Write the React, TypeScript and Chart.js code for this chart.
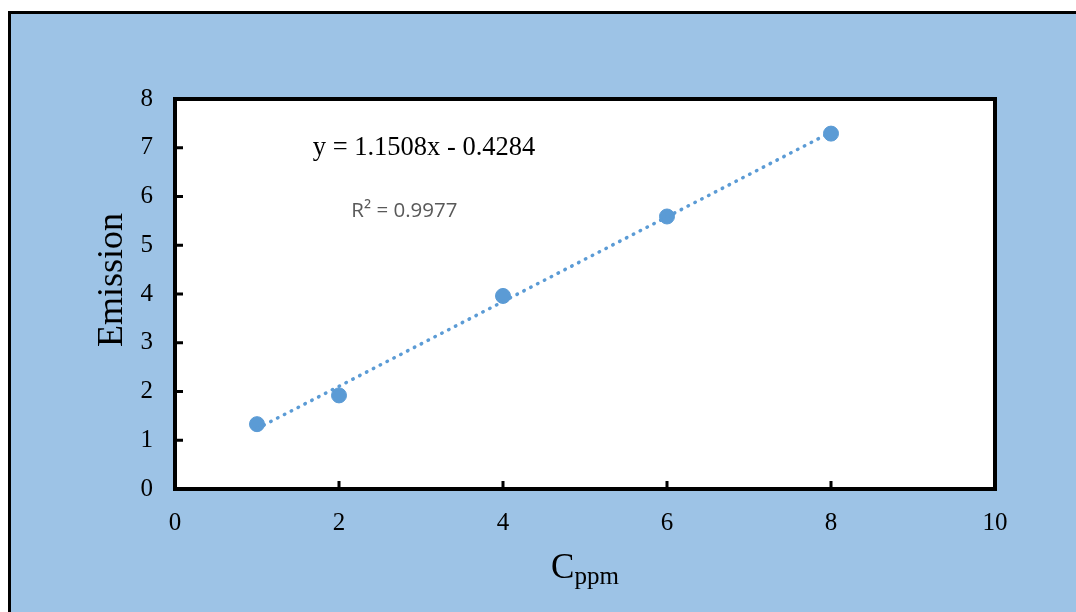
import { useEffect, useRef } from "react";
import { Chart, registerables } from "chart.js";

Chart.register(...registerables);

// ---- data ----
const concentrations = [1, 2, 4, 6, 8];
const emissions = [1.33, 1.92, 3.96, 5.59, 7.29];
const xTickValues = [0, 2, 4, 6, 8, 10];
const yTickValues = [0, 1, 2, 3, 4, 5, 6, 7, 8];
const equationLabel = "y = 1.1508x - 0.4284";
const r2Label = "R² = 0.9977";
const xTitleMain = "C";
const xTitleSub = "ppm";
const yTitle = "Emission";

// least-squares trend line derived from the data
function trend(xs: number[], ys: number[]) {
  const n = xs.length;
  const mx = xs.reduce((a, b) => a + b, 0) / n;
  const my = ys.reduce((a, b) => a + b, 0) / n;
  let sxy = 0, sxx = 0;
  for (let i = 0; i < n; i++) {
    sxy += (xs[i] - mx) * (ys[i] - my);
    sxx += (xs[i] - mx) * (xs[i] - mx);
  }
  const m = sxy / sxx;
  const b = my - m * mx;
  const x0 = Math.min(...xs), x1 = Math.max(...xs);
  return [{ x: x0, y: m * x0 + b }, { x: x1, y: m * x1 + b }];
}

const BLUE = "#5B9BD5";
const BG = "#9DC3E6";
const SERIF = "'Liberation Serif', 'Times New Roman', serif";

const decorPlugin = {
  id: "decor",
  beforeDraw(chart: any) {
    const { ctx, width, height, chartArea: a } = chart;
    ctx.save();
    ctx.fillStyle = "#ffffff";
    ctx.fillRect(0, 0, width, height);
    ctx.fillStyle = BG;
    ctx.fillRect(9.5, 12.5, width, height);
    ctx.strokeStyle = "#000";
    ctx.lineWidth = 3;
    ctx.beginPath();
    ctx.moveTo(9.5, height + 5);
    ctx.lineTo(9.5, 12.5);
    ctx.lineTo(width + 5, 12.5);
    ctx.stroke();
    ctx.fillStyle = "#ffffff";
    ctx.fillRect(a.left, a.top, a.right - a.left, a.bottom - a.top);
    ctx.restore();
  },
  beforeDatasetsDraw(chart: any) {
    const { ctx, chartArea: a, scales } = chart;
    ctx.save();
    ctx.strokeStyle = "#000";
    ctx.lineWidth = 4;
    ctx.lineJoin = "miter";
    ctx.strokeRect(a.left, a.top, a.right - a.left, a.bottom - a.top);
    ctx.lineWidth = 3;
    ctx.beginPath();
    for (const v of yTickValues) {
      if (v === yTickValues[0] || v === yTickValues[yTickValues.length - 1]) continue;
      const py = scales.y.getPixelForValue(v);
      ctx.moveTo(a.left, py);
      ctx.lineTo(a.left + 8, py);
    }
    for (const v of xTickValues) {
      if (v === xTickValues[0] || v === xTickValues[xTickValues.length - 1]) continue;
      const px = scales.x.getPixelForValue(v);
      ctx.moveTo(px, a.bottom);
      ctx.lineTo(px, a.bottom - 8);
    }
    ctx.stroke();
    ctx.restore();
  },
  afterDraw(chart: any) {
    const { ctx, chartArea: a, scales } = chart;
    ctx.save();
    // equation
    ctx.fillStyle = "#000";
    ctx.font = `26.5px ${SERIF}`;
    ctx.textAlign = "left";
    ctx.textBaseline = "middle";
    ctx.fillText(equationLabel, scales.x.getPixelForValue(1.68), scales.y.getPixelForValue(7.0));
    // R squared
    ctx.fillStyle = "#595959";
    ctx.font = "20.5px 'Open Sans', 'Liberation Sans', sans-serif";
    ctx.fillText(r2Label, scales.x.getPixelForValue(2.15), scales.y.getPixelForValue(5.7));
    // y title
    ctx.fillStyle = "#000";
    ctx.font = `36px ${SERIF}`;
    ctx.translate(122, 280);
    ctx.rotate(-Math.PI / 2);
    ctx.textAlign = "center";
    ctx.textBaseline = "alphabetic";
    ctx.fillText(yTitle, 0, 0);
    ctx.setTransform(1, 0, 0, 1, 0, 0);
    // x title with subscript
    ctx.textAlign = "left";
    ctx.font = `35px ${SERIF}`;
    const wMain = ctx.measureText(xTitleMain).width;
    ctx.font = `25px ${SERIF}`;
    const wSub = ctx.measureText(xTitleSub).width;
    const cx = (a.left + a.right) / 2;
    const startX = cx - (wMain + wSub) / 2;
    ctx.font = `35px ${SERIF}`;
    ctx.fillText(xTitleMain, startX, 578);
    ctx.font = `25px ${SERIF}`;
    ctx.fillText(xTitleSub, startX + wMain, 584);
    ctx.restore();
  },
};

export default function App() {
  const ref = useRef<HTMLCanvasElement | null>(null);
  useEffect(() => {
    if (!ref.current) return;
    const chart = new Chart(ref.current, {
      type: "scatter",
      data: {
        datasets: [
          {
            type: "line",
            label: "Trend",
            data: trend(concentrations, emissions),
            borderColor: BLUE,
            borderWidth: 3.5,
            borderDash: [0.5, 7.2],
            borderCapStyle: "round",
            pointRadius: 0,
            fill: false,
            order: 0,
          },
          {
            type: "scatter",
            label: "Emission",
            data: concentrations.map((x, i) => ({ x, y: emissions[i] })),
            backgroundColor: BLUE,
            borderColor: BLUE,
            pointRadius: 7.5,
            pointHoverRadius: 7.5,
            order: 1,
          },
        ] as any,
      },
      options: {
        responsive: false,
        animation: false,
        devicePixelRatio: 1,
        layout: { padding: { top: 99, right: 81, left: 0, bottom: 0 } },
        plugins: { legend: { display: false }, tooltip: { enabled: false } },
        scales: {
          x: {
            type: "linear",
            min: 0,
            max: 10,
            afterBuildTicks: (s: any) => {
              s.ticks = xTickValues.map((v) => ({ value: v }));
            },
            afterFit: (s: any) => {
              s.height = 123;
            },
            grid: { display: false, drawTicks: false },
            border: { display: false },
            ticks: {
              color: "#000",
              font: { family: SERIF, size: 25 },
              padding: 19,
              maxRotation: 0,
            },
          },
          y: {
            type: "linear",
            min: 0,
            max: 8,
            afterBuildTicks: (s: any) => {
              s.ticks = yTickValues.map((v) => ({ value: v }));
            },
            afterFit: (s: any) => {
              s.width = 175;
            },
            grid: { display: false, drawTicks: false },
            border: { display: false },
            ticks: {
              color: "#000",
              font: { family: SERIF, size: 25 },
              padding: 22,
            },
          },
        },
      } as any,
      plugins: [decorPlugin],
    });
    return () => chart.destroy();
  }, []);
  return (
    <div style={{ position: "absolute", left: 0, top: 0, width: 1076, height: 612 }}>
      <canvas ref={ref} width={1076} height={612} style={{ display: "block" }} />
    </div>
  );
}
